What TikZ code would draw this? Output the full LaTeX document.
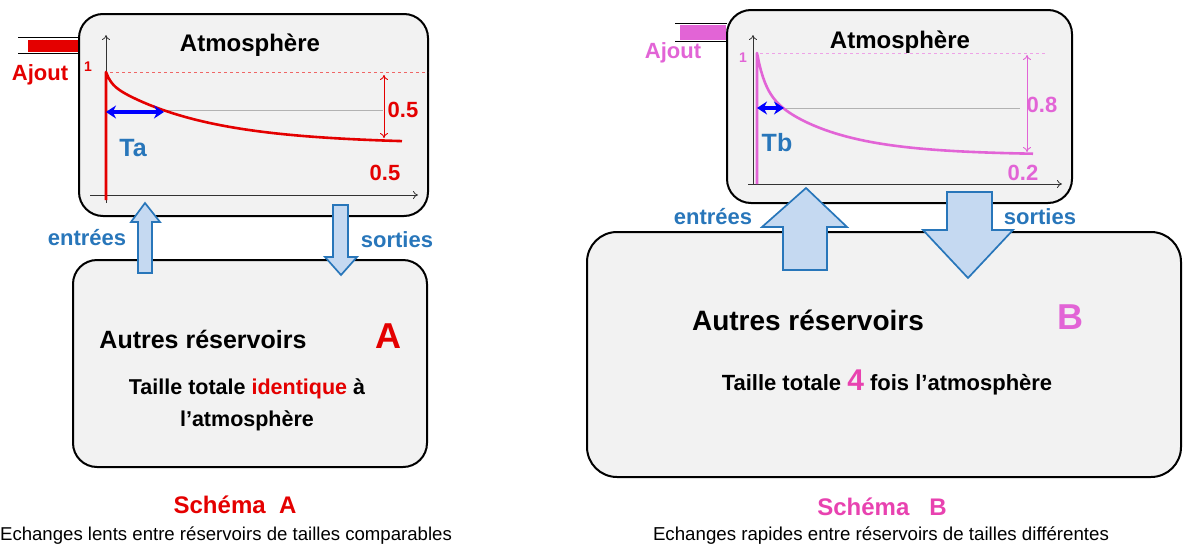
\documentclass[tikz,border=0pt]{standalone}
\usepackage{fontspec}
\setmainfont{Liberation Sans}
\usetikzlibrary{arrows.meta}
\definecolor{rouge}{RGB}{228,0,0}
\definecolor{orchidee}{RGB}{226,100,214}
\definecolor{rose}{RGB}{232,66,176}
\definecolor{bleutxt}{RGB}{40,118,186}
\definecolor{bleuclair}{RGB}{197,217,241}
\definecolor{fond}{RGB}{242,242,242}

\begin{document}
\begin{tikzpicture}[x=1pt,y=-1pt,
    boite/.style={draw=black,line width=2pt,fill=fond,rounded corners=24pt},
    fleche/.style={draw=bleutxt,fill=bleuclair,line width=1.7pt},
    axe/.style={draw=black!80,line width=0.8pt,-{To[length=5pt,width=8pt]}},
    duree/.style={blue,line width=3.2pt,{Stealth[length=10pt,width=13pt]}-{Stealth[length=10pt,width=13pt]}},
    lbl/.style={inner sep=0pt,font=\bfseries\fontsize{#1}{#1}\selectfont},
    lbl/.default=22]
  \useasboundingbox (0,0) rectangle (1183,549);

  % --- schema A ---
  \draw[boite] (79,14) rectangle (428,216);
  \draw[boite] (73,260) rectangle (427,467);

  \draw[line width=1pt] (18,37) -- (79,37);
  \draw[line width=1pt] (18,53) -- (79,53);
  \fill[rouge] (28,40) rectangle (78,52);

  \draw[axe] (106,203) -- (106,35);
  \draw[axe] (90,195) -- (418,195);
  \draw[rouge!60,dashed,line width=0.5pt] (110,72) -- (428,72);
  \draw[gray!60,line width=0.7pt] (106,110) -- (383,110);
  \draw[rouge,line width=2.6pt,line join=round]
    (106,200) -- (106,72)
    -- plot[domain=106:402,samples=120] (\x,{144-72*(0.15*exp(-(\x-106)/5)+0.85*exp(-(\x-106)/97))});
  \draw[duree] (106,112) -- (164,112);
  \draw[rouge,line width=0.9pt,{To[length=5pt,width=8pt]}-{To[length=5pt,width=8pt]}] (384,75) -- (384,138);

  \draw[fleche] (138,273) -- (138,222) -- (131,222) -- (145,203) -- (160,222) -- (152,222) -- (152,273) -- cycle;
  \draw[fleche] (333,205) -- (333,257) -- (325,257) -- (341,275) -- (357,257) -- (348,257) -- (348,205) -- cycle;

  \node[lbl=24] (atmA) at (250,45) {Atmosphère};
  \node[lbl,text=rouge] (ajoutA) at (40,75) {Ajout};
  \node[lbl=14,text=rouge] (unA) at (88,67) {1};
  \node[lbl=25,text=bleutxt] (ta) at (133,148) {Ta};
  \node[lbl,text=rouge] (demiA) at (403,110) {0.5};
  \node[lbl,text=rouge] (finA) at (385,173) {0.5};
  \node[lbl,text=bleutxt] (entA) at (87,238) {entrées};
  \node[lbl,text=bleutxt] (sortA) at (397,240) {sorties};
  \node[lbl=25] (resA) at (203,339) {Autres réservoirs};
  \node[lbl=36,text=rouge] (lettreA) at (388,336) {A};
  \node[lbl,align=center,font=\bfseries\fontsize{21.5}{32}\selectfont] (tailleA) at (247,405)
    {Taille totale \textcolor{rouge}{identique} à\\l’atmosphère};
  \node[lbl=24,text=rouge] (schA) at (235,505) {Schéma\ \ A};
  \node[inner sep=0pt,font=\fontsize{18.6}{20}\selectfont] (capA) at (226,536)
    {Echanges lents entre réservoirs de tailles comparables};

  % --- schema B ---
  \draw[boite] (727,10) rectangle (1072,203);
  \draw[boite,rounded corners=30pt] (587,232) rectangle (1181,477);

  \draw[line width=1pt] (675,23) -- (727,23);
  \draw[line width=1pt] (675,41) -- (727,41);
  \fill[orchidee] (680,25) rectangle (726,40);

  \draw[axe] (753,184) -- (753,35);
  \draw[axe] (748,184) -- (1062,184);
  \draw[orchidee!60,dashed,line width=0.5pt] (760,53) -- (1045,53);
  \draw[gray!60,line width=0.7pt] (757,108) -- (1020,108);
  \draw[orchidee,line width=2.6pt,line join=round]
    (757,184) -- (757,53)
    -- plot[domain=757:1033,samples=140] (\x,{155-102*(0.35*exp(-(\x-757)/8)+0.65*exp(-(\x-757)/70))});
  \draw[duree] (757,108) -- (784,108);
  \draw[orchidee,line width=0.9pt,{To[length=5pt,width=8pt]}-{To[length=5pt,width=8pt]}] (1027,55) -- (1027,152);

  \draw[fleche] (783,270) -- (783,227) -- (762,227) -- (806,188) -- (847,227) -- (827,227) -- (827,270) -- cycle;
  \draw[fleche] (947,192) -- (947,230) -- (923,230) -- (968,278) -- (1013,230) -- (992,230) -- (992,192) -- cycle;

  \node[lbl=24] (atmB) at (900,42) {Atmosphère};
  \node[lbl,text=orchidee] (ajoutB) at (673,53) {Ajout};
  \node[lbl=14,text=orchidee] (unB) at (743,58) {1};
  \node[lbl=25,text=bleutxt] (tb) at (777,143) {Tb};
  \node[lbl,text=orchidee] (demiB) at (1042,105) {0.8};
  \node[lbl,text=orchidee] (finB) at (1023,173) {0.2};
  \node[lbl,text=bleutxt] (entB) at (713,217) {entrées};
  \node[lbl,text=bleutxt] (sortB) at (1040,217) {sorties};
  \node[lbl=28] (resB) at (808,320) {Autres réservoirs};
  \node[lbl=36,text=orchidee] (lettreB) at (1070,317) {B};
  \node[lbl=22] (tailleB) at (887,382)
    {Taille totale {\color{rose}\fontsize{30}{30}\selectfont 4} fois l’atmosphère};
  \node[lbl=24,text=rose] (schB) at (882,507) {Schéma\ \ \ B};
  \node[inner sep=0pt,font=\fontsize{18.7}{20}\selectfont] (capB) at (881,536)
    {Echanges rapides entre réservoirs de tailles différentes};
\end{tikzpicture}
\end{document}
